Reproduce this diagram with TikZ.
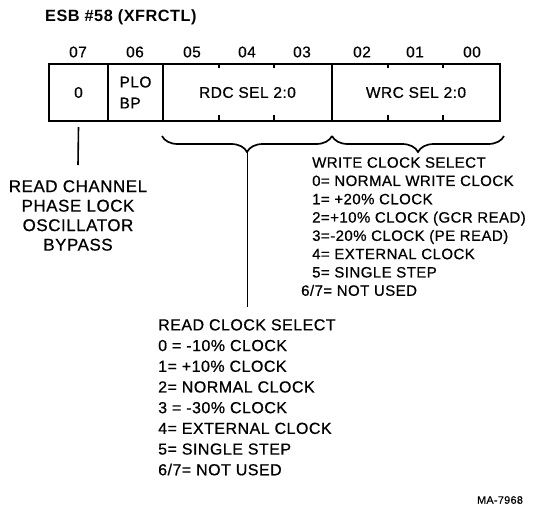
\documentclass[tikz,border=0pt]{standalone}
\usepackage{fontspec}
\setmainfont{Liberation Sans}
\newfontfamily\scanfont[LetterSpace=3, FakeBold=0.6]{Liberation Sans}
\usetikzlibrary{positioning, calc, decorations.pathreplacing}

\tikzset{
  field/.style={draw, line width=2pt, minimum height=57pt, inner sep=0pt, anchor=north west},
  brc/.style={decorate, decoration={brace, mirror, amplitude=16pt}, line width=1.7pt},
  txt/.style={font=\scanfont\fontsize{15.5}{19.5}\selectfont, inner sep=0pt},
}

\begin{document}
\begin{tikzpicture}[x=1pt, y=-1pt]
	\useasboundingbox (0,0) rectangle (534,507);
	\node[anchor=west, inner sep=0pt, font=\bfseries\addfontfeatures{LetterSpace=3}\fontsize{16.3}{18}\selectfont] (title) at (45,17) {ESB \#58 (XFRCTL)};
	\node[field, minimum width=59pt, txt] (c07) at (48,63) {0};
	\node[field, minimum width=55pt, txt, align=left, font=\scanfont\fontsize{15.5}{21}\selectfont] (c06) at (107,63) {PLO\\BP};
	\node[field, minimum width=169pt, txt] (rdc) at (162,63) {RDC SEL 2:0};
	\node[field, minimum width=168pt, txt] (wrc) at (331,63) {WRC SEL 2:0};
	\foreach \x in {219,274,388,443} {
		\draw[line width=1.4pt] (\x,63) -- ++(0,5);
		\draw[line width=1.4pt] (\x,120) -- ++(0,-5);
	}
	\foreach \x/\b in {78/07,135/06,192/05,247/04,302/03,362/02,415/01,472/00}
		\node[txt] (bit\b) at (\x,52) {\b};
	\node[txt, anchor=north, align=center, font=\scanfont\fontsize{17}{19.5}\selectfont] (bypass) at (78,180) {READ CHANNEL\\PHASE LOCK\\OSCILLATOR\\BYPASS};
	\draw[line width=1.6pt] ([yshift=-5pt]c07.south) -- ([yshift=15pt]bypass.north);
	\draw[brc] ([yshift=-14pt]rdc.south west) -- ([xshift=-1pt, yshift=-14pt]rdc.south east);
	\draw[brc] ([xshift=1pt, yshift=-14pt]wrc.south west) -- ([xshift=3pt, yshift=-14pt]wrc.south east);
	\coordinate (rdctip) at ([yshift=-30pt]rdc.south);
	\node[txt, anchor=north west, align=left, font=\scanfont\fontsize{15}{18.3}\selectfont] (write) at (312,157) {WRITE CLOCK SELECT\\0= NORMAL WRITE CLOCK\\1= +20\% CLOCK\\2=+10\% CLOCK (GCR READ)\\3=-20\% CLOCK (PE READ)\\4= EXTERNAL CLOCK\\5= SINGLE STEP\\\hspace*{-11pt}6/7= NOT USED};
	\node[txt, anchor=north west, align=left, font=\scanfont\fontsize{16}{20.7}\selectfont] (read) at (158,319) {READ CLOCK SELECT\\0 = -10\% CLOCK\\1= +10\% CLOCK\\2= NORMAL CLOCK\\3 = -30\% CLOCK\\4= EXTERNAL CLOCK\\5= SINGLE STEP\\6/7= NOT USED};
	\coordinate (readtop) at (rdctip |- read.north);
	\draw[line width=1.6pt] (rdctip) -- ([yshift=12pt]readtop);
	\node[inner sep=0pt, font=\scanfont\fontsize{10.8}{12}\selectfont] (fig) at (500,500) {MA-7968};
\end{tikzpicture}
\end{document}
